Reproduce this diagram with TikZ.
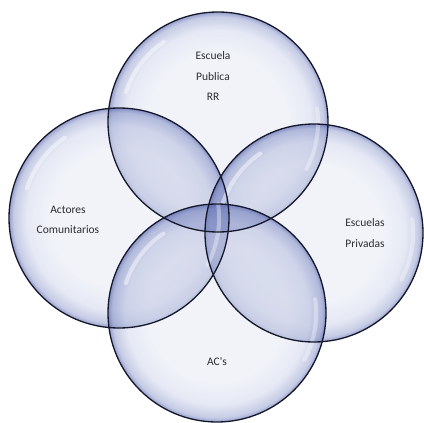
\documentclass[tikz,border=0pt]{standalone}
\usepackage{fontspec}
\setmainfont{Carlito}
\definecolor{bubA}{RGB}{232,235,245}
\definecolor{bubB}{RGB}{214,219,238}
\definecolor{bubC}{RGB}{160,170,212}
\definecolor{bubD}{RGB}{80,96,172}
\definecolor{lensblue}{RGB}{85,101,176}
\definecolor{rimcol}{RGB}{21,24,42}
\definecolor{textgray}{RGB}{45,45,50}
\pgfdeclareradialshading{bubble}{\pgfpointorigin}{color(0bp)=(bubA); color(16bp)=(bubA); color(21bp)=(bubB); color(24bp)=(bubC); color(25bp)=(bubD); color(50bp)=(bubD)}
\tikzset{
  bubblefill/.style={shading=bubble, fill opacity=0.6},
  lensfill/.style={fill=lensblue, fill opacity=0.12},
  rim/.style={draw=rimcol, line width=1.3pt},
  shine/.style={draw=white, line width=4pt, line cap=round, draw opacity=0.45},
  lbl/.style={font=\fontsize{11.5}{20.5}\selectfont, align=center, text=textgray, inner sep=0pt}
}
\begin{document}
\begin{tikzpicture}[x=1pt,y=-1pt]
\fill[white] (0,0) rectangle (424,423);
\useasboundingbox (0,0) rectangle (424,423);
\coordinate (ct) at (218,122);
\coordinate (cl) at (119,218);
\coordinate (cr) at (314,233);
\coordinate (cb) at (217,313);
% bubbles
\shade[bubblefill] (ct) circle[radius=110];
\shade[bubblefill] (cl) circle[radius=110];
\shade[bubblefill] (cr) circle[radius=109];
\shade[bubblefill] (cb) circle[radius=109];
% pairwise overlaps
\begin{scope}\clip (ct) circle[radius=110]; \fill[lensfill] (cl) circle[radius=110]; \end{scope}
\begin{scope}\clip (ct) circle[radius=110]; \fill[lensfill] (cr) circle[radius=109]; \end{scope}
\begin{scope}\clip (ct) circle[radius=110]; \fill[lensfill] (cb) circle[radius=109]; \end{scope}
\begin{scope}\clip (cl) circle[radius=110]; \fill[lensfill] (cr) circle[radius=109]; \end{scope}
\begin{scope}\clip (cl) circle[radius=110]; \fill[lensfill] (cb) circle[radius=109]; \end{scope}
\begin{scope}\clip (cr) circle[radius=109]; \fill[lensfill] (cb) circle[radius=109]; \end{scope}
% highlights
\foreach \c/\r in {ct/110, cl/110, cr/109, cb/109}{
  \draw[shine] (\c) ++(198:0.88*\r) arc[start angle=198, end angle=236, radius=0.88*\r];
  \draw[shine, draw opacity=0.35] (\c) ++(-8:0.91*\r) arc[start angle=-8, end angle=28, radius=0.91*\r];
}
% rims
\draw[rim] (ct) circle[radius=110];
\draw[rim] (cl) circle[radius=110];
\draw[rim] (cr) circle[radius=109];
\draw[rim] (cb) circle[radius=109];
% labels
\node[lbl] (lt) at (213,76.5) {Escuela\\Publica\\RR};
\node[lbl] (ll) at (68,220) {Actores\\Comunitarios};
\node[lbl] (lr) at (365,233) {Escuelas\\Privadas};
\node[lbl] (lb) at (217,362) {AC\textquotesingle s};
\end{tikzpicture}
\end{document}
